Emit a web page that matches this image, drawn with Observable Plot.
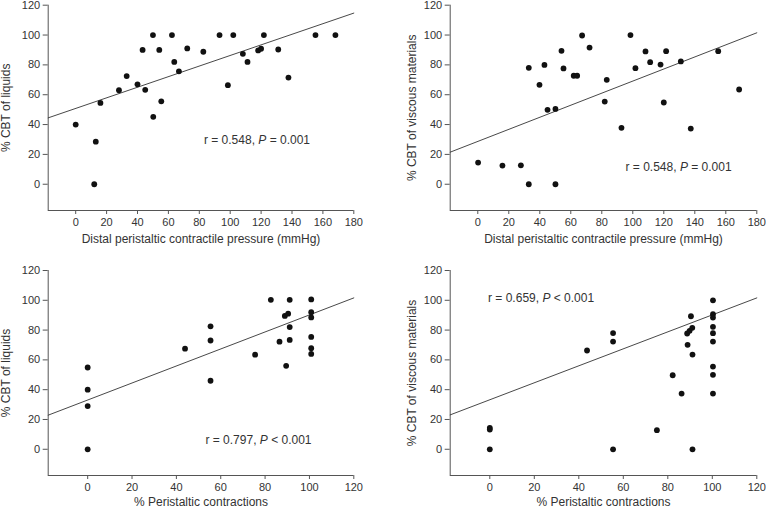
<!DOCTYPE html>
<html>
<head>
<meta charset="utf-8">
<script src="https://cdn.jsdelivr.net/npm/d3@7"></script>
<script src="https://cdn.jsdelivr.net/npm/@observablehq/plot@0.6"></script>
<style>
  html, body { margin: 0; padding: 0; background: #fff; }
  #wrap { position: relative; width: 766px; height: 511px; overflow: hidden; background: #fff; }
</style>
</head>
<body>
<div id="wrap"></div>
<script>
// ---- tick labels ----
const xTicksPressure = [0, 20, 40, 60, 80, 100, 120, 140, 160, 180];
const xTicksPercent = [0, 20, 40, 60, 80, 100, 120];
const yTicks = [0, 20, 40, 60, 80, 100, 120];

// ---- axis titles ----
const xTitlePressure = "Distal peristaltic contractile pressure (mmHg)";
const xTitlePercent = "% Peristaltic contractions";
const yTitleLiquids = "% CBT of liquids";
const yTitleViscous = "% CBT of viscous materials";

// ---- panel A: pressure vs % CBT liquids ----
const liquidsPressure = [
  [0, 40], [13, 28.5], [12, 0], [16, 54.5], [28, 63], [33, 72.5], [40, 67], [45, 63.3],
  [43.3, 90], [50, 100], [50.2, 45.2], [54.1, 90], [55.4, 55.6], [62.3, 100], [63.8, 82],
  [66.8, 75.7], [72.2, 91], [82.6, 88.8], [93.1, 100], [98.5, 66.4], [102, 100], [108.2, 87.4],
  [111.2, 82], [118.1, 89.7], [120, 90.8], [121.8, 100], [131.1, 90.3], [137.7, 71.5],
  [155.2, 100], [168.1, 100]
];
const fitLiquidsPressure = [[-17.8, 44.5], [180, 114.7]];
const statLiquidsPressure = {x: 83, y: 29.6, r: "0.548", op: "=", p: "0.001"};

// ---- panel B: pressure vs % CBT viscous ----
const viscousPressure = [
  [0.2, 14.5], [15.9, 12.5], [27.8, 12.7], [32.9, 0], [50.1, 0], [32.9, 78], [39.8, 66.6],
  [43, 80], [45, 49.9], [50.1, 50.5], [54, 89.4], [55.3, 77.6], [61.9, 72.7], [64.1, 72.7],
  [67.3, 99.7], [72.1, 91.6], [83.2, 70], [81.9, 55.4], [92.7, 37.8], [98.5, 100],
  [101.7, 77.8], [108.2, 89], [111.2, 81.8], [117.9, 80.2], [121.5, 89.2], [120, 54.8],
  [131, 82.3], [137.4, 37.3], [155.1, 89.2], [168.6, 63.5]
];
const fitViscousPressure = [[-17.8, 21.5], [180, 101.5]];
const statViscousPressure = {x: 95.3, y: 11.4, r: "0.548", op: "=", p: "0.001"};

// ---- panel C: % peristaltic vs % CBT liquids ----
const liquidsPercent = [
  [0, 54.9], [0, 40], [0, 29], [0, 0], [43.9, 67.5], [55.4, 82.5], [55.4, 73], [55.4, 46],
  [75.5, 63.5], [82.6, 100.3], [91.1, 100.3], [100.8, 100.6], [88.9, 89.5], [90.4, 91],
  [100.8, 92], [100.8, 88.5], [91.1, 82], [100.8, 75.4], [86.5, 72.2], [91.1, 73.4],
  [100.8, 67.8], [100.8, 64], [89.5, 56]
];
const fitLiquidsPercent = [[-17.8, 22.9], [120, 101.6]];
const statLiquidsPercent = {x: 53.1, y: 6.1, r: "0.797", op: "<", p: "0.001"};

// ---- panel D: % peristaltic vs % CBT viscous ----
const viscousPercent = [
  [0, 14.4], [0, 13.2], [0, 0], [43.7, 66.3], [55.4, 78], [55.4, 72.3], [55.4, 0],
  [75.1, 12.8], [91.1, 0], [82.2, 49.7], [86.2, 37.4], [88.9, 70.1], [88.7, 77.7],
  [89.8, 79.5], [91, 81.5], [90.4, 89.3], [91.1, 63.6], [100.3, 100], [100.3, 90.7],
  [100.3, 88.4], [100.3, 82.2], [100.3, 77.9], [100.3, 72.3], [100.3, 55.5], [100.3, 50],
  [100.3, 37.4]
];
const fitViscousPercent = [[-17.8, 23.1], [120, 101.6]];
const statViscousPercent = {x: -0.8, y: 101.7, r: "0.659", op: "<", p: "0.001"};

const yDomain = [-17.6, 120];
const FONT = "'Liberation Sans', Arial, Helvetica, sans-serif";
const AXIS = "#555";

function panel(opts) {
  const {points, fit, stat, xDomain, xTicks, xTitle, yTitle, w, h,
         mLeft, mRight, mTop, mBottom, xTitleDy, yTitleDx} = opts;
  const plot = Plot.plot({
    width: w, height: h,
    marginLeft: mLeft, marginRight: mRight, marginTop: mTop, marginBottom: mBottom,
    style: {fontFamily: FONT, fontSize: "11px", color: "#333", background: "transparent", overflow: "visible"},
    x: {domain: xDomain, ticks: xTicks, tickSize: 4, tickPadding: 4, label: null, tickFormat: d => String(d)},
    y: {domain: yDomain, ticks: yTicks, tickSize: 5, tickPadding: 3, label: null, tickFormat: d => String(d)},
    marks: [
      Plot.ruleX([xDomain[0]], {y1: yDomain[0], y2: yDomain[1], stroke: AXIS, strokeWidth: 1}),
      Plot.ruleY([yDomain[0]], {x1: xDomain[0], x2: xDomain[1], stroke: AXIS, strokeWidth: 1}),
      Plot.line(fit, {x: d => d[0], y: d => d[1], stroke: "#333", strokeWidth: 0.9}),
      Plot.dot(points, {x: d => d[0], y: d => d[1], r: 2.9, fill: "#111", stroke: "none"}),
      Plot.text([stat], {x: "x", y: "y", text: d => `r = ${d.r}, P ${d.op} ${d.p}`, textAnchor: "start", fill: "#333", fontSize: 12, className: "stat"}),
      Plot.text([xTitle], {frameAnchor: "bottom", textAnchor: "middle", dy: xTitleDy, fill: "#333", fontSize: 12}),
      Plot.text([yTitle], {frameAnchor: "left", textAnchor: "middle", rotate: -90, dx: yTitleDx, fill: "#333", fontSize: 12})
    ]
  });
  // italicise the "P" in the statistic annotation
  plot.querySelectorAll(".stat text, g.stat text").forEach(t => {
    const s = stat;
    t.textContent = "";
    const ns = "http://www.w3.org/2000/svg";
    const a = document.createElementNS(ns, "tspan"); a.textContent = `r = ${s.r}, `;
    const b = document.createElementNS(ns, "tspan"); b.textContent = "P"; b.setAttribute("font-style", "italic");
    const c = document.createElementNS(ns, "tspan"); c.textContent = ` ${s.op} ${s.p}`;
    t.append(a, b, c);
  });
  // grey tick marks
  plot.querySelectorAll("[aria-label$='axis'] path, [aria-label$='tick'] path").forEach(p => p.setAttribute("stroke", AXIS));
  return plot;
}

const wrap = document.getElementById("wrap");
const specs = [
  {left: 0, top: 0, points: liquidsPressure, fit: fitLiquidsPressure, stat: statLiquidsPressure,
   xDomain: [-17.8, 180], xTicks: xTicksPressure, xTitle: xTitlePressure, yTitle: yTitleLiquids,
   w: 383, h: 255, mLeft: 47.7, mRight: 29.7, mTop: 4.7, mBottom: 45, xTitleDy: 32, yTitleDx: -42.5},
  {left: 383, top: 0, points: viscousPressure, fit: fitViscousPressure, stat: statViscousPressure,
   xDomain: [-17.8, 180], xTicks: xTicksPressure, xTitle: xTitlePressure, yTitle: yTitleViscous,
   w: 383, h: 255, mLeft: 66.7, mRight: 9.7, mTop: 4.7, mBottom: 45, xTitleDy: 32, yTitleDx: -38.5},
  {left: 0, top: 255, points: liquidsPercent, fit: fitLiquidsPercent, stat: statLiquidsPercent,
   xDomain: [-17.8, 120], xTicks: xTicksPercent, xTitle: xTitlePercent, yTitle: yTitleLiquids,
   w: 383, h: 256, mLeft: 47.7, mRight: 29.7, mTop: 15, mBottom: 36, xTitleDy: 30.7, yTitleDx: -42.5},
  {left: 383, top: 255, points: viscousPercent, fit: fitViscousPercent, stat: statViscousPercent,
   xDomain: [-17.8, 120], xTicks: xTicksPercent, xTitle: xTitlePercent, yTitle: yTitleViscous,
   w: 383, h: 256, mLeft: 66.7, mRight: 9.7, mTop: 15, mBottom: 36, xTitleDy: 30.7, yTitleDx: -38.5}
];
for (const s of specs) {
  const el = panel(s);
  el.style.position = "absolute";
  el.style.left = s.left + "px";
  el.style.top = s.top + "px";
  wrap.appendChild(el);
}
</script>
</body>
</html>
